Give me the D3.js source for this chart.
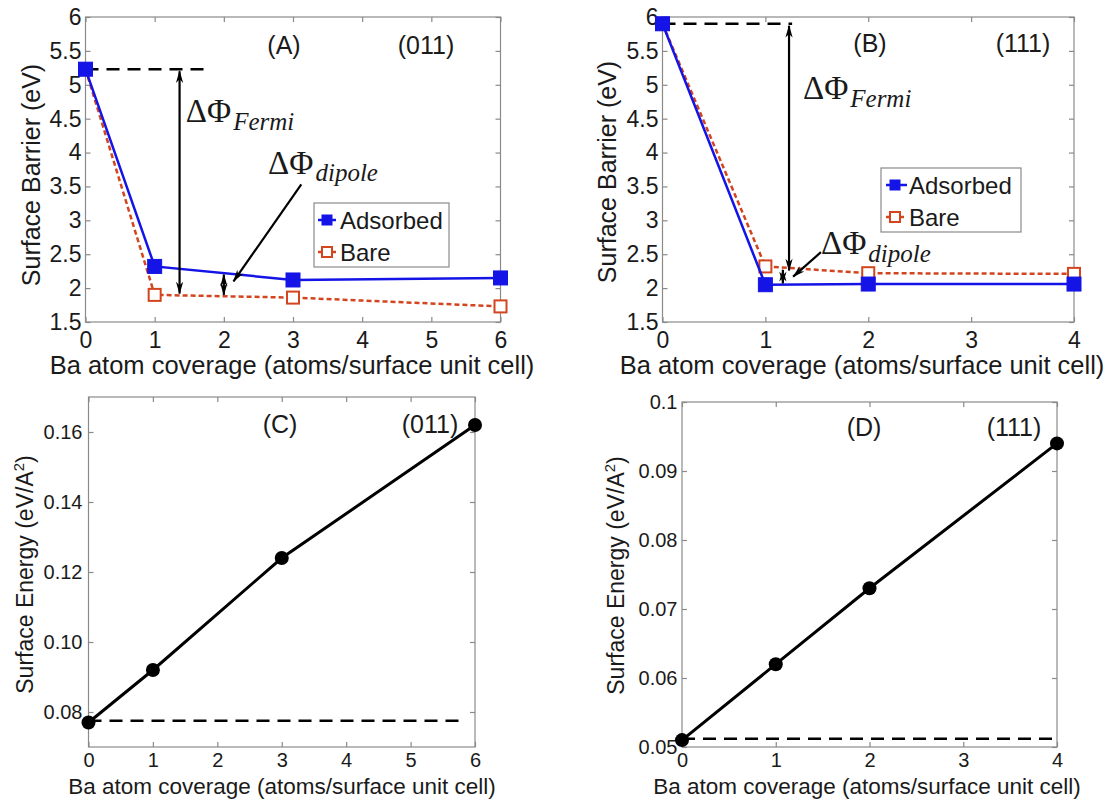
<!DOCTYPE html>
<html>
<head>
<meta charset="utf-8">
<script src="https://cdn.jsdelivr.net/npm/d3@7"></script>
<style>
  body { margin: 0; background: #fff; }
  text { font-family: "Liberation Sans", Arial, sans-serif; fill: #1a1a1a; }
  .serif { font-family: "Liberation Serif", "Times New Roman", serif; }
</style>
</head>
<body>
<div id="chart"></div>
<script>
// data
const coverA = [0, 1, 3, 6];
const adsorbedA = [5.23, 2.32, 2.12, 2.15];
const bareA = [5.23, 1.90, 1.86, 1.73];

const coverB = [0, 1, 2, 4];
const adsorbedB = [5.90, 2.05, 2.06, 2.06];
const bareB = [5.90, 2.32, 2.22, 2.21];

const coverC = [0, 1, 3, 6];
const energyC = [0.077, 0.092, 0.124, 0.162];
const baseC = 0.0775;

const coverD = [0, 1, 2, 4];
const energyD = [0.051, 0.062, 0.073, 0.094];
const baseD = 0.0512;

const barrierTicks = [1.5, 2, 2.5, 3, 3.5, 4, 4.5, 5, 5.5, 6];
const energyTicksC = [0.08, 0.10, 0.12, 0.14, 0.16];
const energyTicksD = [0.05, 0.06, 0.07, 0.08, 0.09, 0.1];

const width = 1114;
const height = 801;

const blue = "#1414e6";
const red = "#d2451e";

const svg = d3.select("#chart").append("svg")
  .attr("width", width)
  .attr("height", height);

svg.append("defs").append("marker")
  .attr("id", "head")
  .attr("viewBox", "0 0 14 10")
  .attr("refX", 13).attr("refY", 5)
  .attr("markerWidth", 14).attr("markerHeight", 9)
  .attr("markerUnits", "userSpaceOnUse")
  .attr("orient", "auto-start-reverse")
  .append("path")
  .attr("d", "M0,1 L14,5 L0,9 L4,5 Z")
  .attr("fill", "#000");

// build one matlab-style axes box
function makeAxes(box, xDomain, yDomain, xTicks, yTicks, yFmt) {
  const x = d3.scaleLinear().domain(xDomain).range([box.left, box.right]);
  const y = d3.scaleLinear().domain(yDomain).range([box.bottom, box.top]);
  const g = svg.append("g");

  g.append("rect")
    .attr("x", box.left).attr("y", box.top)
    .attr("width", box.right - box.left)
    .attr("height", box.bottom - box.top)
    .attr("fill", "none")
    .attr("stroke", "#8a8a8a")
    .attr("stroke-width", 1.2);

  const axisStyle = (sel) => {
    sel.select(".domain").remove();
    sel.selectAll(".tick line").attr("stroke", "#8a8a8a").attr("stroke-width", 1.2);
    sel.selectAll(".tick text")
      .style("font-size", box.tickSize + "px")
      .style("font-family", '"Liberation Sans", Arial, sans-serif')
      .attr("fill", "#1a1a1a");
  };

  g.append("g").attr("transform", `translate(0,${box.bottom})`)
    .call(d3.axisBottom(x).tickValues(xTicks).tickFormat(d3.format("d"))
      .tickSizeInner(-5).tickSizeOuter(0).tickPadding(box.xPad))
    .call(axisStyle);
  g.append("g").attr("transform", `translate(0,${box.top})`)
    .call(d3.axisTop(x).tickValues(xTicks).tickFormat("")
      .tickSizeInner(-5).tickSizeOuter(0))
    .call(axisStyle);
  g.append("g").attr("transform", `translate(${box.left},0)`)
    .call(d3.axisLeft(y).tickValues(yTicks).tickFormat(yFmt)
      .tickSizeInner(-5).tickSizeOuter(0).tickPadding(box.yPad))
    .call(axisStyle);
  g.append("g").attr("transform", `translate(${box.right},0)`)
    .call(d3.axisRight(y).tickValues(yTicks).tickFormat("")
      .tickSizeInner(-5).tickSizeOuter(0))
    .call(axisStyle);

  return { x, y, g };
}

function series(ax, xs, ys, opts) {
  const pts = xs.map((d, i) => [d, ys[i]]);
  const line = d3.line().x(d => ax.x(d[0])).y(d => ax.y(d[1]));
  ax.g.append("path")
    .attr("d", line(pts))
    .attr("fill", "none")
    .attr("stroke", opts.color)
    .attr("stroke-width", opts.width)
    .attr("stroke-dasharray", opts.dash || null);
  if (opts.square) {
    const s = opts.size;
    ax.g.selectAll(null).data(pts).join("rect")
      .attr("x", d => ax.x(d[0]) - s / 2)
      .attr("y", d => ax.y(d[1]) - s / 2)
      .attr("width", s).attr("height", s)
      .attr("fill", opts.filled ? opts.color : "#fff")
      .attr("stroke", opts.color)
      .attr("stroke-width", opts.filled ? 1 : 2);
  } else {
    ax.g.selectAll(null).data(pts).join("circle")
      .attr("cx", d => ax.x(d[0]))
      .attr("cy", d => ax.y(d[1]))
      .attr("r", opts.size)
      .attr("fill", opts.color);
  }
}

function arrow(ax, p0, p1, both) {
  ax.g.append("line")
    .attr("x1", ax.x(p0[0])).attr("y1", ax.y(p0[1]))
    .attr("x2", ax.x(p1[0])).attr("y2", ax.y(p1[1]))
    .attr("stroke", "#000")
    .attr("stroke-width", 2.2)
    .attr("marker-end", "url(#head)")
    .attr("marker-start", both ? "url(#head)" : null);
}

function dashedRef(ax, x0, x1, yv) {
  ax.g.append("line")
    .attr("x1", ax.x(x0)).attr("x2", ax.x(x1))
    .attr("y1", ax.y(yv)).attr("y2", ax.y(yv))
    .attr("stroke", "#000")
    .attr("stroke-width", 2.5)
    .attr("stroke-dasharray", "13 8");
}

function deltaPhi(ax, px, py, sub, subShift) {
  const t = ax.g.append("text")
    .attr("class", "serif")
    .attr("x", ax.x(px)).attr("y", ax.y(py))
    .style("font-size", "33px");
  t.append("tspan").text("ΔΦ");
  t.append("tspan")
    .attr("dx", 2)
    .attr("dy", subShift)
    .style("font-style", "italic")
    .style("font-size", "25px")
    .text(sub);
}

function legend(ax, lx, ly, w, h, lay) {
  const g = ax.g.append("g").attr("transform", `translate(${lx},${ly})`);
  g.append("rect").attr("width", w).attr("height", h)
    .attr("fill", "#fff").attr("stroke", "#8a8a8a").attr("stroke-width", 1.2);
  const rows = [
    { label: "Adsorbed", color: blue, filled: true, dash: null, cy: 17 },
    { label: "Bare", color: red, filled: false, dash: "4 3", cy: 49 }
  ];
  rows.forEach((r) => {
    g.append("line").attr("x1", lay.l0).attr("x2", lay.l1).attr("y1", r.cy).attr("y2", r.cy)
      .attr("stroke", r.color).attr("stroke-width", 2.5)
      .attr("stroke-dasharray", r.dash);
    g.append("rect").attr("x", lay.mc - 5).attr("y", r.cy - 5).attr("width", 10).attr("height", 10)
      .attr("fill", r.filled ? r.color : "#fff")
      .attr("stroke", r.color).attr("stroke-width", r.filled ? 1 : 2);
    g.append("text").attr("x", lay.tx).attr("y", r.cy + 8.5)
      .style("font-size", "24px").text(r.label);
  });
}

function tags(ax, xa, xb, ty, a, b, size) {
  ax.g.append("text").attr("x", xa).attr("y", ty).attr("text-anchor", "middle")
    .style("font-size", size + "px").text(a);
  ax.g.append("text").attr("x", xb).attr("y", ty).attr("text-anchor", "middle")
    .style("font-size", size + "px").text(b);
}

function labels(box, xlab, ylab, sup) {
  svg.append("text")
    .attr("x", box.xlabX)
    .attr("y", box.xlabY)
    .attr("text-anchor", "middle")
    .style("font-size", box.xlabSize + "px")
    .text(xlab);
  const t = svg.append("text")
    .attr("transform", `translate(${box.ylabX},${box.ylabC}) rotate(-90)`)
    .attr("text-anchor", "middle")
    .style("font-size", box.ylabSize + "px");
  t.append("tspan").text(ylab);
  if (sup) {
    t.append("tspan").attr("dy", -9).style("font-size", (box.ylabSize * 0.65) + "px").text("2");
    t.append("tspan").attr("dy", 9).text(")");
  }
}

const fmtBarrier = d3.format("~g");
const xLabel = "Ba atom coverage (atoms/surface unit cell)";

// (A)
const boxA = { left: 85.5, right: 500.5, top: 17, bottom: 322, tickSize: 23, xPad: 10, yPad: 4,
  xlabX: 292, xlabY: 374, xlabSize: 25.5, ylabX: 40, ylabC: 175, ylabSize: 25 };
const axA = makeAxes(boxA, [0, 6], [1.5, 6], d3.range(0, 7), barrierTicks, fmtBarrier);
dashedRef(axA, 0, 1.71, 5.23);
series(axA, coverA, bareA, { color: red, width: 2.5, dash: "5 3", square: true, filled: false, size: 12 });
series(axA, coverA, adsorbedA, { color: blue, width: 2.5, square: true, filled: true, size: 14 });
arrow(axA, [1.36, 5.2], [1.36, 1.92], true);
arrow(axA, [2, 2.2], [2, 1.9], true);
arrow(axA, [3.12, 3.53], [2.14, 2.1], false);
deltaPhi(axA, 1.45, 4.45, "Fermi", 8);
deltaPhi(axA, 2.64, 3.68, "dipole", 7);
legend(axA, 314, 203, 135, 64, { l0: 4, l1: 22, mc: 13, tx: 26 });
tags(axA, 284, 426, 54, "(A)", "(011)", 25);
labels(boxA, xLabel, "Surface Barrier (eV)", false);

// (B)
const boxB = { left: 662.5, right: 1074, top: 17, bottom: 322, tickSize: 23, xPad: 10, yPad: 4,
  xlabX: 862, xlabY: 374, xlabSize: 25.5, ylabX: 616, ylabC: 172, ylabSize: 25 };
const axB = makeAxes(boxB, [0, 4], [1.5, 6], d3.range(0, 5), barrierTicks, fmtBarrier);
dashedRef(axB, 0, 1.26, 5.9);
series(axB, coverB, bareB, { color: red, width: 2.5, dash: "5 3", square: true, filled: false, size: 12 });
series(axB, coverB, adsorbedB, { color: blue, width: 2.5, square: true, filled: true, size: 14 });
arrow(axB, [1.23, 5.87], [1.23, 2.26], true);
arrow(axB, [1.17, 2.27], [1.17, 2.07], true);
arrow(axB, [1.54, 2.53], [1.27, 2.17], false);
deltaPhi(axB, 1.365, 4.79, "Fermi", 8);
deltaPhi(axB, 1.54, 2.5, "dipole", 8);
legend(axB, 881, 168, 140, 64, { l0: 5, l1: 26, mc: 14, tx: 28 });
tags(axB, 870, 1023, 52, "(B)", "(111)", 25);
labels(boxB, xLabel, "Surface Barrier (eV)", false);

// (C)
const boxC = { left: 88.5, right: 475, top: 397, bottom: 747, tickSize: 20, xPad: 6, yPad: 6,
  xlabX: 282, xlabY: 794, xlabSize: 22.5, ylabX: 33, ylabC: 574.5, ylabSize: 23 };
const axC = makeAxes(boxC, [0, 6], [0.07, 0.17], d3.range(0, 7), energyTicksC, d3.format(".2f"));
dashedRef(axC, 0, 5.81, baseC);
series(axC, coverC, energyC, { color: "#000", width: 3, square: false, size: 7 });
tags(axC, 280, 430, 433, "(C)", "(011)", 25);
labels(boxC, xLabel, "Surface Energy (eV/A", true);

// (D)
const boxD = { left: 682, right: 1057, top: 402, bottom: 747, tickSize: 20, xPad: 6, yPad: 4.5,
  xlabX: 867, xlabY: 794, xlabSize: 22.5, ylabX: 624, ylabC: 575.5, ylabSize: 23 };
const axD = makeAxes(boxD, [0, 4], [0.05, 0.1], d3.range(0, 5), energyTicksD, d3.format("~g"));
dashedRef(axD, 0, 4, baseD);
series(axD, coverD, energyD, { color: "#000", width: 3, square: false, size: 7 });
tags(axD, 864, 1014, 436, "(D)", "(111)", 25);
labels(boxD, xLabel, "Surface Energy (eV/A", true);
</script>
</body>
</html>
